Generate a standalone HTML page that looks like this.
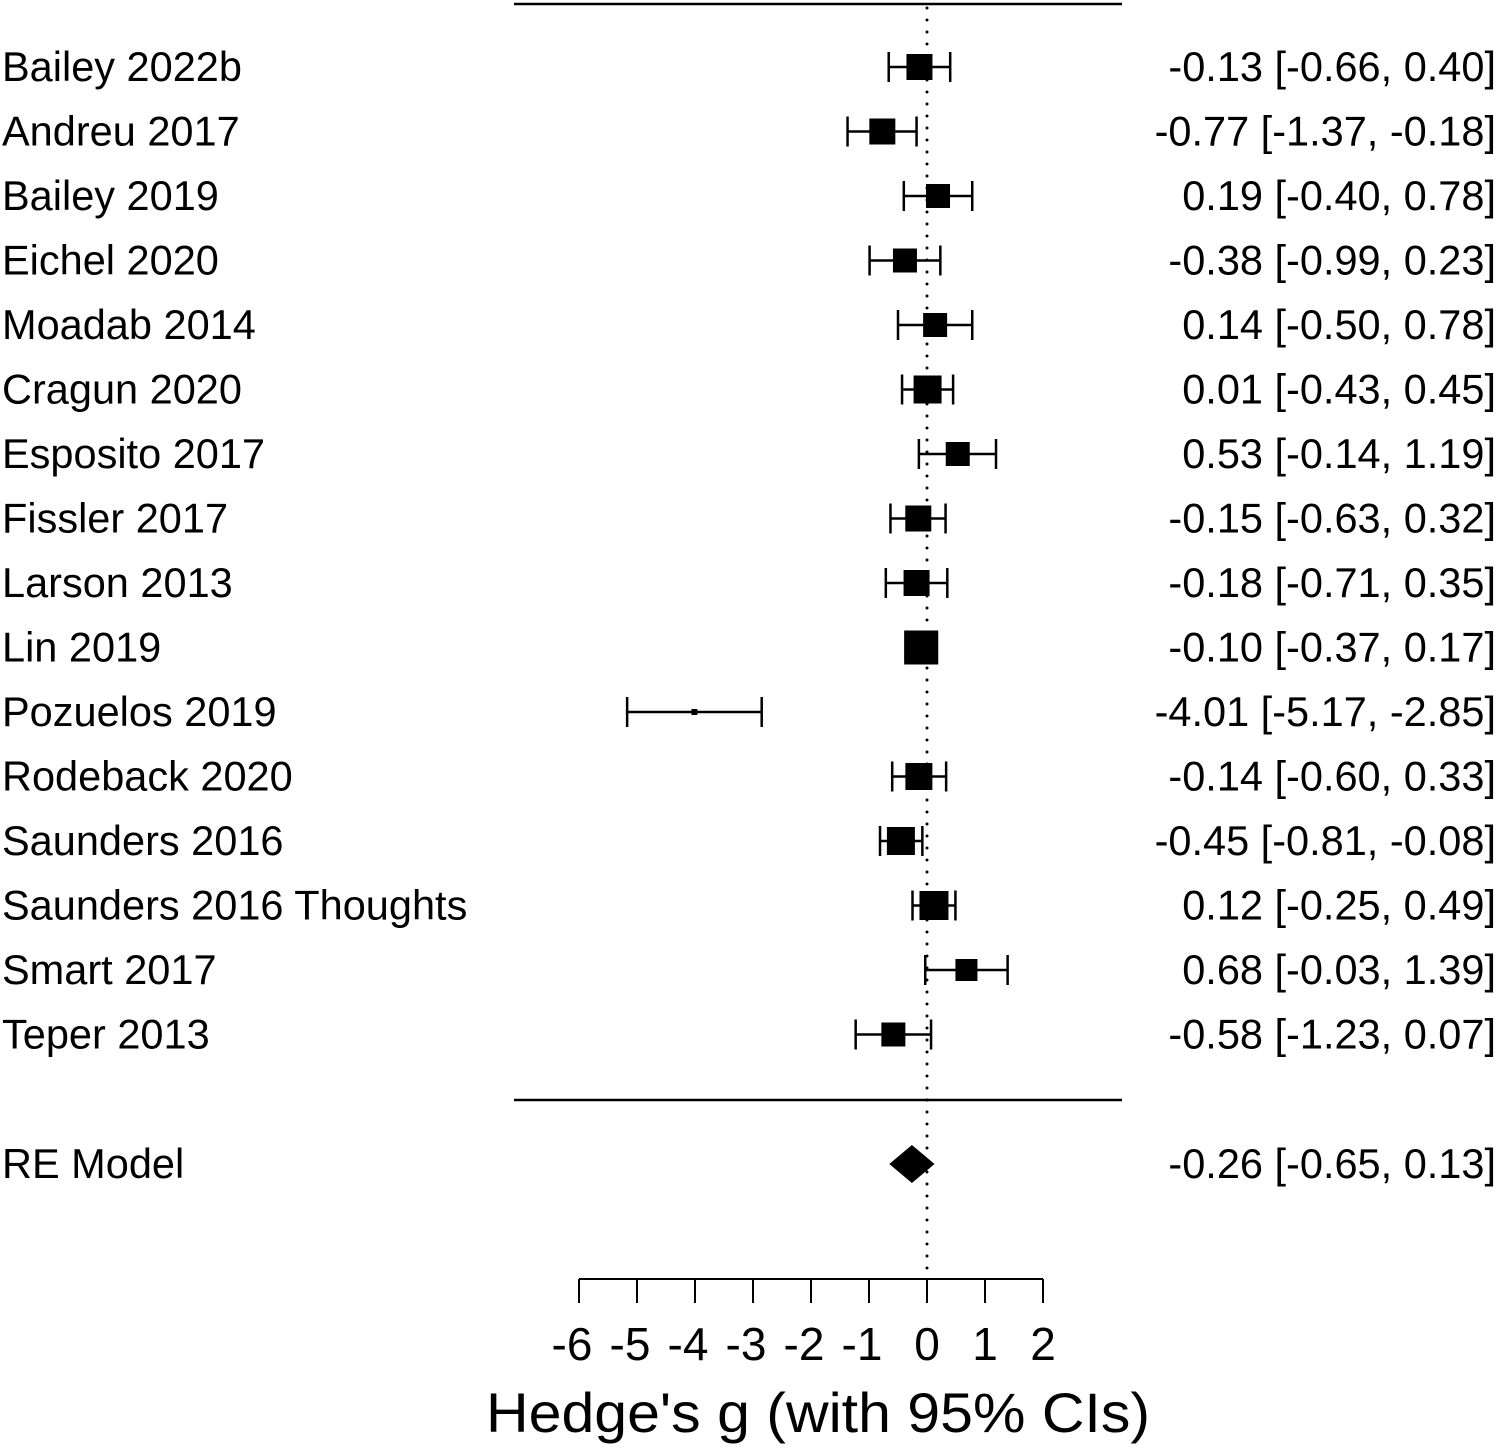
<!DOCTYPE html>
<html><head><meta charset="utf-8"><style>
body{margin:0;background:#fff}
svg{display:block}
text{font-family:"Liberation Sans",Arial,sans-serif;fill:#000}
</style></head><body>
<svg id="chart" width="1499" height="1450" viewBox="0 0 1499 1450" xmlns="http://www.w3.org/2000/svg"></svg>
<script>
const studies = ["Bailey 2022b","Andreu 2017","Bailey 2019","Eichel 2020","Moadab 2014","Cragun 2020","Esposito 2017","Fissler 2017","Larson 2013","Lin 2019","Pozuelos 2019","Rodeback 2020","Saunders 2016","Saunders 2016 Thoughts","Smart 2017","Teper 2013"];
const estimates = [-0.13,-0.77,0.19,-0.38,0.14,0.01,0.53,-0.15,-0.18,-0.10,-4.01,-0.14,-0.45,0.12,0.68,-0.58];
const lower = [-0.66,-1.37,-0.40,-0.99,-0.50,-0.43,-0.14,-0.63,-0.71,-0.37,-5.17,-0.60,-0.81,-0.25,-0.03,-1.23];
const upper = [0.40,-0.18,0.78,0.23,0.78,0.45,1.19,0.32,0.35,0.17,-2.85,0.33,-0.08,0.49,1.39,0.07];
const weights = [13,13,12,12,12,14,12,13,13,17,3,13.5,14,14.5,11,12];
const pooled = {est:-0.26, lo:-0.65, hi:0.13};
const ticks = [-6,-5,-4,-3,-2,-1,0,1,2];

const svg = document.getElementById('chart');
const NS = 'http://www.w3.org/2000/svg';
const x = v => 927 + v*58;
const y = i => 67 + i*64.5;
function mk(tag, attrs, parent){const e=document.createElementNS(NS,tag);for(const k in attrs)e.setAttribute(k,attrs[k]);(parent||svg).appendChild(e);return e;}
const fmt = v => v.toFixed(2);
const FS = 41.5;

let e;
e = mk('line',{x1:514,x2:1122,y1:4,y2:4,stroke:'#000','stroke-width':2.5});
 
e = mk('line',{x1:514,x2:1122,y1:1100,y2:1100,stroke:'#000','stroke-width':2.5});
 
e = mk('line',{x1:x(0),x2:x(0),y1:8,y2:1279,stroke:'#000','stroke-width':3,'stroke-dasharray':'0 12','stroke-linecap':'round'});
 

studies.forEach((s,i)=>{
  const g = mk('g',{});
  
  
  const yy = y(i);
  let t = mk('text',{x:2,y:yy+14,'font-size':FS},g); t.textContent=s;
   
  t = mk('text',{x:1496,y:yy+14,'font-size':FS,'text-anchor':'end'},g);
  t.textContent = fmt(estimates[i])+' ['+fmt(lower[i])+', '+fmt(upper[i])+']';
   
  let l = mk('line',{x1:x(lower[i]),x2:x(upper[i]),y1:yy,y2:yy,stroke:'#000','stroke-width':2.5},g);
   
  [lower[i],upper[i]].forEach(v=>{
    const c = mk('line',{x1:x(v),x2:x(v),y1:yy-15,y2:yy+15,stroke:'#000','stroke-width':2.5},g);
     
  });
  const w = weights[i];
  const r = mk('rect',{x:x(estimates[i])-w,y:yy-w,width:2*w,height:2*w,fill:'#000'},g);
   
});

const py = 1164;
e = mk('text',{x:2,y:py+14,'font-size':FS}); e.textContent='RE Model';
 
e = mk('text',{x:1496,y:py+14,'font-size':FS,'text-anchor':'end'});
e.textContent = fmt(pooled.est)+' ['+fmt(pooled.lo)+', '+fmt(pooled.hi)+']';
 
e = mk('polygon',{points:`${x(pooled.lo)},${py} ${x(pooled.est)},${py-19} ${x(pooled.hi)},${py} ${x(pooled.est)},${py+19}`,fill:'#000'});
 

e = mk('line',{x1:x(ticks[0]),x2:x(ticks[ticks.length-1]),y1:1279,y2:1279,stroke:'#000','stroke-width':2});
 
ticks.forEach(t=>{
  let l = mk('line',{x1:x(t),x2:x(t),y1:1279,y2:1303,stroke:'#000','stroke-width':2});
   
  let tx = mk('text',{x:x(t)-(t<0?7:0),y:1360,'font-size':46,'text-anchor':'middle'});
  tx.textContent = String(t);
   
});
e = mk('text',{x:818,y:1432,'font-size':56,'text-anchor':'middle',textLength:664,lengthAdjust:'spacingAndGlyphs'}); e.textContent="Hedge's g (with 95% CIs)";
 
</script>
</body></html>
